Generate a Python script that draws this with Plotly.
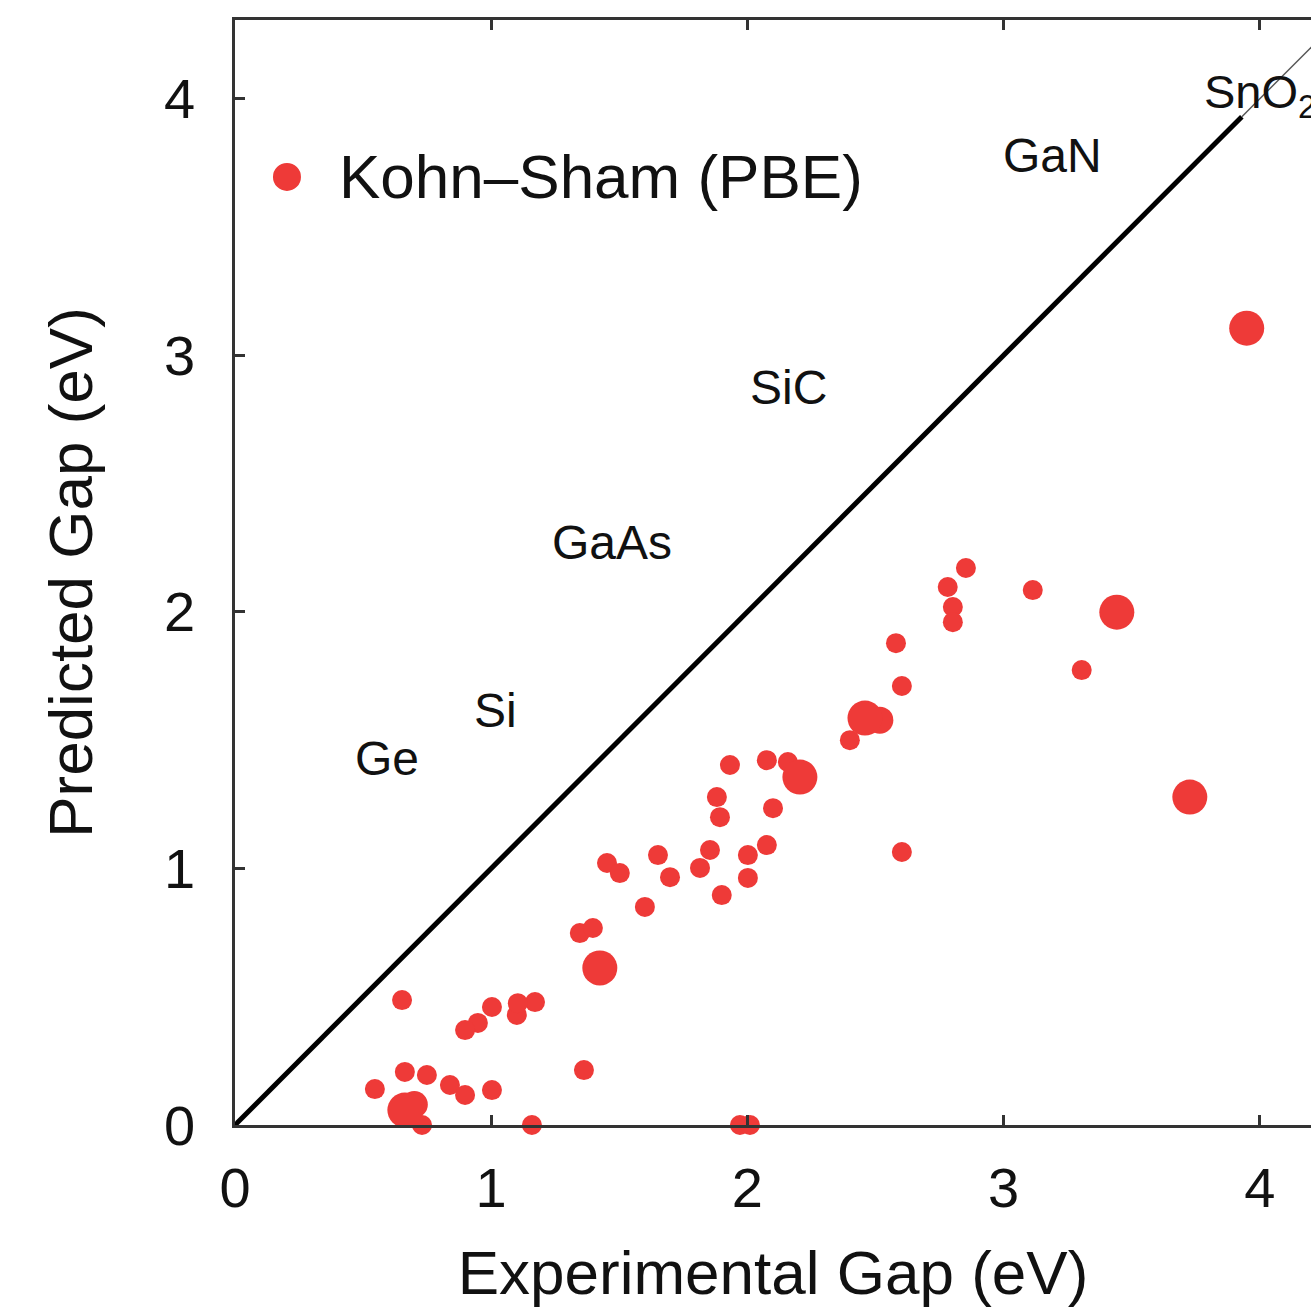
import plotly.graph_objects as go

# Experimental vs Kohn-Sham (PBE) band gaps (eV)
small_exp = [3.305, 3.114, 2.853, 2.782, 2.802, 2.802, 2.580, 2.603, 2.603, 2.400,
             2.158, 2.076, 1.932, 1.881, 1.893, 2.100, 2.076, 2.002, 2.002, 1.854,
             1.815, 1.900, 1.651, 1.698, 1.600, 1.452, 1.502, 1.346, 1.397, 1.362,
             1.171, 1.100, 1.104, 1.003, 0.948, 0.898, 0.652, 0.546, 0.663, 0.749,
             0.839, 0.898, 1.003, 0.730, 1.159, 1.971, 2.010]
small_pbe = [1.773, 2.085, 2.171, 2.097, 2.019, 1.960, 1.878, 1.711, 1.064, 1.500,
             1.415, 1.422, 1.403, 1.278, 1.200, 1.235, 1.091, 1.052, 0.963, 1.072,
             1.002, 0.896, 1.052, 0.966, 0.850, 1.021, 0.982, 0.748, 0.768, 0.214,
             0.479, 0.429, 0.475, 0.460, 0.398, 0.370, 0.487, 0.140, 0.207, 0.195,
             0.156, 0.117, 0.136, 0.000, 0.000, 0.000, 0.000]

medium_exp = [2.517, 0.700]
medium_pbe = [1.578, 0.080]

large_exp = [3.949, 3.442, 3.727, 2.459, 2.205, 1.424, 0.663]
large_pbe = [3.106, 1.999, 1.278, 1.586, 1.356, 0.612, 0.058]

diag_main = [0.0, 3.93]
diag_tail = [3.93, 4.35]

labels = ["Ge", "Si", "GaAs", "SiC", "GaN"]
label_x = [0.593, 1.015, 1.471, 2.162, 3.192]
label_y = [1.430, 1.617, 2.272, 2.876, 3.780]

series_name = "Kohn\u2013Sham (PBE)"

RED = "rgb(238,58,56)"
FONT = "Liberation Sans, Arial, Helvetica, sans-serif"
TXT = "#111111"

fig = go.Figure()

fig.add_trace(go.Scatter(x=diag_main, y=diag_main, mode="lines",
                         line=dict(color="black", width=5), showlegend=False,
                         hoverinfo="skip"))
fig.add_trace(go.Scatter(x=diag_tail, y=diag_tail, mode="lines",
                         line=dict(color="#555555", width=1.5), showlegend=False,
                         hoverinfo="skip"))

fig.add_trace(go.Scatter(x=small_exp, y=small_pbe, mode="markers",
                         name=series_name,
                         marker=dict(color=RED, size=20, line=dict(width=0)),
                         cliponaxis=False, showlegend=False))
fig.add_trace(go.Scatter(x=medium_exp, y=medium_pbe, mode="markers",
                         name=series_name,
                         marker=dict(color=RED, size=27, line=dict(width=0)),
                         cliponaxis=False, showlegend=False))
fig.add_trace(go.Scatter(x=large_exp, y=large_pbe, mode="markers",
                         name=series_name,
                         marker=dict(color=RED, size=35, line=dict(width=0)),
                         cliponaxis=False, showlegend=False))

for t, x, y in zip(labels, label_x, label_y):
    fig.add_annotation(x=x, y=y, text=t, showarrow=False,
                       font=dict(size=48, color=TXT, family=FONT),
                       xanchor="center", yanchor="middle")

fig.add_annotation(x=3.775, y=4.014, text="SnO<sub>2</sub>", showarrow=False,
                   font=dict(size=47, color=TXT, family=FONT),
                   xanchor="left", yanchor="middle")

# legend (drawn by hand so that the symbol can be as large as in the original)
fig.add_shape(type="circle", xref="paper", yref="paper",
              xsizemode="pixel", ysizemode="pixel",
              xanchor=0.0483, yanchor=0.858,
              x0=-14, x1=14, y0=-14, y1=14,
              fillcolor=RED, line=dict(width=0))
fig.add_annotation(xref="paper", yref="paper", x=0.0948, y=0.858,
                   text=series_name, showarrow=False,
                   font=dict(size=62, color=TXT, family=FONT),
                   xanchor="left", yanchor="middle")

axis_common = dict(
    showgrid=False, zeroline=False, showline=True, linecolor="#333333",
    linewidth=2.5, ticks="inside", ticklen=10, tickwidth=2.5, tickcolor="#333333",
    tickfont=dict(size=56, color=TXT, family=FONT), automargin=False,
    tickmode="array", tickvals=[0, 1, 2, 3, 4], ticktext=["0", "1", "2", "3", "4"],
)

fig.update_xaxes(**axis_common, range=[0, 4.2], mirror="ticks",
                 ticklabelstandoff=12,
                 title=dict(text="Experimental Gap (eV)",
                            font=dict(size=62, color=TXT, family=FONT),
                            standoff=33))
fig.update_yaxes(**axis_common, range=[0, 4.307],
                 ticklabelstandoff=26,
                 title=dict(text="Predicted Gap (eV)",
                            font=dict(size=62, color=TXT, family=FONT),
                            standoff=52))

fig.update_layout(
    width=1311, height=1311,
    margin=dict(l=235, r=0, t=20, b=186),
    paper_bgcolor="white", plot_bgcolor="white",
    font=dict(family=FONT, color=TXT),
    showlegend=False,
)

# remove the page's default body margin so the figure fills the window exactly
fig.write_html(
    "out.html",
    config={"displayModeBar": False},
    post_script="document.body.style.margin='0';document.body.style.overflow='hidden';",
)
